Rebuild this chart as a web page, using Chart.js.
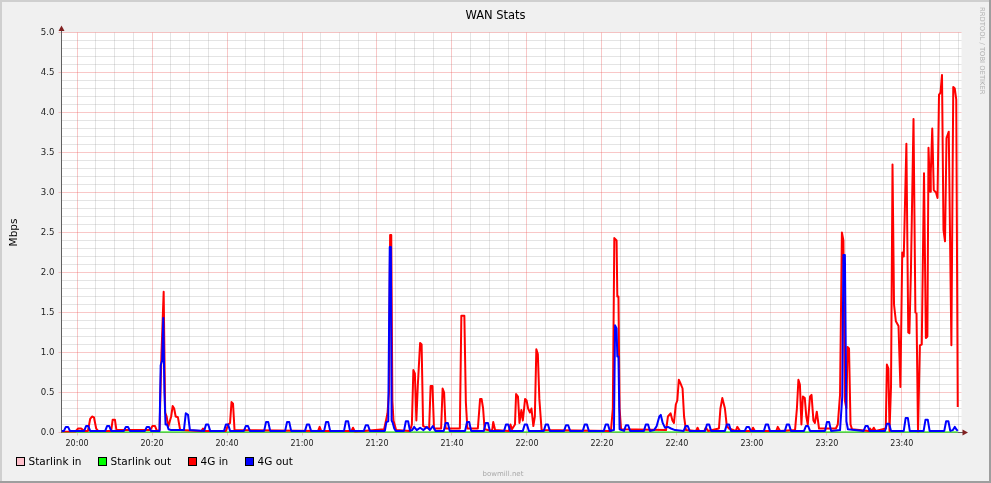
<!DOCTYPE html>
<html>
<head>
<meta charset="utf-8">
<title>WAN Stats</title>
<script src="https://cdn.jsdelivr.net/npm/chart.js@4.4.1/dist/chart.umd.min.js"></script>
<style>
  html, body { margin: 0; padding: 0; background: #f0f0f0; }
  #wrap { width: 991px; height: 483px; }
</style>
</head>
<body>
<div id="wrap"><canvas id="wanChart" width="991" height="483"></canvas></div>
<script>
// time is in minutes after 20:00, values in Mbps
const starlinkTimes = [-4.1, 234.9];
const starlinkInValues = [0, 0];
const starlinkOutValues = [0, 0];

const in4gTimes = [
  -4.1, -0.5, 0.3, 1.1, 1.9,
  2.9, 3.5, 4.0, 4.5, 5.1, 5.6,
  9.1, 9.5, 10.1, 10.5,
  19.5, 20.1, 20.8, 21.3,
  22.0, 22.5, 23.1, 23.5, 23.9, 24.3,
  25.1, 25.5, 25.9, 26.3, 26.9, 27.5,
  33.2, 33.6, 34.1,
  39.7, 40.3, 40.8, 41.2, 41.6, 42.0,
  64.3, 64.7, 65.1,
  73.2, 73.6, 74.1,
  81.9, 82.4, 82.8, 83.2, 83.5, 83.8, 84.1, 84.4, 85.1,
  88.8, 89.3, 89.7, 90.1, 90.5, 90.9, 91.5, 91.9, 92.3,
  93.9, 94.3, 94.8, 95.2,
  97.1, 97.5, 97.9, 98.3,
  102.1, 102.5, 103.3, 103.7, 104.1,
  106.9, 107.5, 107.9, 108.3, 108.7,
  110.7, 111.0, 111.5,
  115.2, 115.6, 116.0,
  116.8, 117.1, 117.6, 118.0, 118.5, 118.9, 119.5, 119.9, 120.3, 120.8, 121.2, 121.7, 122.1, 122.5, 122.9, 123.3, 123.9,
  142.4, 142.9, 143.3, 143.9, 144.1, 144.4, 144.7, 145.1,
  157.1, 157.6, 158.3, 158.8, 159.2, 159.7, 160.1, 160.5, 160.9, 161.5, 161.9, 162.4,
  165.1, 165.5, 165.9,
  167.3, 167.7, 168.3,
  171.2, 171.6, 172.1, 172.8, 173.3, 173.9,
  175.7, 176.1, 176.8,
  179.9, 180.3, 180.8,
  186.5, 186.9, 187.5,
  191.5, 192.0, 192.4, 192.8, 193.2, 193.6, 194.1, 194.5, 194.9, 195.5, 195.9, 196.4, 196.8, 197.3, 197.9,
  202.4, 202.9, 203.5, 204.0, 204.4, 204.8, 205.2, 205.5, 205.9, 206.3, 206.7,
  211.2, 211.5, 212.0, 212.5, 213.0,
  215.7, 216.0, 216.4, 216.7, 217.1, 217.5, 217.9, 218.4, 219.1, 219.6,
  220.1, 220.5, 221.2, 221.7, 222.0, 222.4, 223.1, 223.6, 223.9, 224.3,
  224.8, 225.3, 225.9, 226.4, 226.8, 227.1, 227.5, 227.7, 228.1, 228.5,
  229.1, 229.5, 229.9, 230.3, 230.7, 231.1, 231.5, 231.9, 232.5, 233.2,
  233.7, 234.1, 234.5, 234.9
];
const in4gValues = [
  0.01, 0.01, 0.05, 0.05, 0.02,
  0.02, 0.17, 0.2, 0.19, 0.05, 0.02,
  0.02, 0.16, 0.16, 0.03,
  0.03, 0.08, 0.08, 0.02,
  0.03, 0.97, 1.76, 0.25, 0.2, 0.07,
  0.2, 0.33, 0.3, 0.2, 0.19, 0.03,
  0.02, 0.05, 0.02,
  0.02, 0.1, 0.12, 0.38, 0.36, 0.03,
  0.02, 0.07, 0.02,
  0.02, 0.06, 0.01,
  0.04, 0.15, 0.24, 0.5, 2.47, 2.47, 0.4, 0.15, 0.03,
  0.02, 0.1, 0.78, 0.74, 0.15, 0.6, 1.12, 1.1, 0.08,
  0.05, 0.58, 0.58, 0.05,
  0.05, 0.55, 0.5, 0.05,
  0.05, 1.46, 1.46, 0.38, 0.05,
  0.05, 0.42, 0.42, 0.3, 0.04,
  0.02, 0.13, 0.03,
  0.02, 0.1, 0.04,
  0.1, 0.48, 0.45, 0.12, 0.28, 0.15, 0.42, 0.4, 0.3, 0.25, 0.3, 0.08, 0.2, 1.04, 0.98, 0.42, 0.03,
  0.02, 0.3, 2.43, 2.4, 1.7, 1.7, 0.3, 0.04,
  0.03, 0.2, 0.24, 0.15, 0.12, 0.35, 0.4, 0.66, 0.62, 0.55, 0.2, 0.03,
  0.02, 0.06, 0.02,
  0.02, 0.06, 0.02,
  0.05, 0.3, 0.43, 0.3, 0.08, 0.05,
  0.02, 0.07, 0.02,
  0.02, 0.06, 0.02,
  0.02, 0.07, 0.02,
  0.03, 0.3, 0.66, 0.6, 0.1, 0.45, 0.43, 0.2, 0.1, 0.45, 0.47, 0.15, 0.12, 0.26, 0.05,
  0.05, 0.1, 0.47, 2.5, 2.4, 0.4, 0.3, 1.07, 1.05, 0.1, 0.04,
  0.02, 0.05, 0.02, 0.06, 0.02,
  0.05, 0.85, 0.8, 0.02, 0.57, 3.35, 1.6, 1.39, 1.33, 0.57,
  2.25, 2.2, 3.61, 1.25, 1.24, 1.99, 3.92, 1.5, 1.49, 0.01,
  1.09, 1.1, 3.24, 1.18, 1.2, 3.56, 3.01, 3.24, 3.8, 3.03,
  3.0, 2.93, 4.22, 4.25, 4.47, 2.53, 2.39, 3.68, 3.76, 1.09,
  4.32, 4.3, 4.16, 0.32
];

const out4gTimes = [
  -4.1,
  -3.5, -3.0, -2.4, -1.9,
  1.9, 2.4, 3.0, 3.5,
  7.5, 8.0, 8.6, 9.1,
  12.5, 13.0, 13.6, 14.1,
  18.1, 18.6, 19.2, 19.7,
  22.0, 22.3, 22.7, 23.0, 23.3, 23.6, 24.0, 24.4, 25.1,
  28.5, 29.0, 29.6, 30.1,
  33.9, 34.4, 35.0, 35.5,
  39.2, 39.7, 40.3, 40.8,
  44.5, 45.0, 45.6, 46.1,
  49.9, 50.4, 51.0, 51.5,
  55.5, 56.0, 56.6, 57.1,
  60.8, 61.3, 61.9, 62.4,
  65.9, 66.4, 67.0, 67.5,
  71.2, 71.7, 72.3, 72.8,
  76.5, 77.0, 77.6, 78.1,
  82.1, 82.5, 83.0, 83.4, 83.7, 83.9, 84.2, 84.6, 85.0,
  87.2, 87.7, 88.3, 88.8,
  89.4, 89.9, 90.6, 91.5, 92.4, 93.3, 94.1, 94.9, 95.6,
  97.8, 98.3, 98.9, 99.4,
  103.5, 104.0, 104.6, 105.1,
  108.5, 109.0, 109.6, 110.1,
  113.9, 114.4, 115.0, 115.5,
  118.9, 119.4, 120.0, 120.5,
  124.5, 125.0, 125.6, 126.1,
  129.9, 130.4, 131.0, 131.5,
  134.9, 135.4, 136.0, 136.5,
  140.5, 141.0, 141.6, 142.1,
  143.2, 143.5, 143.9, 144.1, 144.4, 144.7,
  145.9, 146.4, 147.0, 147.5,
  151.2, 151.7, 152.3, 152.8,
  153.9, 154.6, 155.3, 155.7, 156.2, 156.8, 157.6, 158.4, 159.5,
  161.8, 162.3, 162.9, 163.4,
  167.5, 168.0, 168.6, 169.1,
  172.8, 173.3, 173.9, 174.4,
  178.1, 178.6, 179.2, 179.7,
  183.2, 183.7, 184.3, 184.8,
  188.8, 189.3, 189.9, 190.4,
  193.9, 194.4, 195.0, 195.5,
  199.5, 200.0, 200.6, 201.1,
  203.5, 204.1, 204.4, 204.8, 205.2, 205.6,
  209.8, 210.3, 210.9, 211.4,
  215.5, 216.0, 216.6, 217.1,
  220.5, 221.0, 221.6, 222.1,
  225.8, 226.3, 226.9, 227.4,
  231.3, 231.8, 232.4, 232.9,
  233.6, 234.1, 234.5, 234.9
];
const out4gValues = [
  0.02,
  0.02, 0.07, 0.07, 0.02,
  0.02, 0.08, 0.08, 0.02,
  0.02, 0.08, 0.08, 0.02,
  0.02, 0.07, 0.07, 0.02,
  0.02, 0.07, 0.07, 0.02,
  0.02, 0.84, 0.9, 1.43, 0.5, 0.1, 0.1, 0.04, 0.03,
  0.03, 0.24, 0.22, 0.03,
  0.02, 0.1, 0.1, 0.02,
  0.02, 0.1, 0.1, 0.02,
  0.02, 0.08, 0.08, 0.02,
  0.02, 0.13, 0.13, 0.02,
  0.02, 0.13, 0.13, 0.02,
  0.02, 0.1, 0.1, 0.02,
  0.02, 0.13, 0.13, 0.02,
  0.02, 0.14, 0.14, 0.02,
  0.02, 0.09, 0.09, 0.02,
  0.02, 0.13, 0.14, 2.32, 2.32, 0.15, 0.12, 0.05, 0.02,
  0.02, 0.14, 0.14, 0.02,
  0.03, 0.07, 0.03, 0.06, 0.03, 0.07, 0.03, 0.08, 0.02,
  0.02, 0.12, 0.12, 0.02,
  0.02, 0.13, 0.13, 0.02,
  0.02, 0.12, 0.12, 0.02,
  0.02, 0.1, 0.1, 0.02,
  0.02, 0.1, 0.1, 0.02,
  0.02, 0.1, 0.1, 0.02,
  0.02, 0.09, 0.09, 0.02,
  0.02, 0.1, 0.1, 0.02,
  0.02, 0.1, 0.1, 0.02,
  0.03, 1.34, 1.3, 0.95, 0.95, 0.04,
  0.02, 0.09, 0.09, 0.02,
  0.02, 0.1, 0.1, 0.02,
  0.03, 0.08, 0.2, 0.22, 0.12, 0.06, 0.07, 0.05, 0.03,
  0.02, 0.08, 0.08, 0.02,
  0.02, 0.1, 0.1, 0.02,
  0.02, 0.1, 0.1, 0.02,
  0.02, 0.07, 0.07, 0.02,
  0.02, 0.1, 0.1, 0.02,
  0.02, 0.1, 0.1, 0.02,
  0.02, 0.08, 0.08, 0.02,
  0.02, 0.13, 0.13, 0.02,
  0.03, 0.45, 2.22, 2.22, 0.14, 0.04,
  0.02, 0.08, 0.08, 0.02,
  0.02, 0.11, 0.11, 0.02,
  0.02, 0.18, 0.18, 0.02,
  0.02, 0.16, 0.16, 0.02,
  0.02, 0.14, 0.14, 0.02,
  0.03, 0.07, 0.04, 0.02
];

const seriesNames = ['Starlink in', 'Starlink out', '4G in', '4G out'];
const seriesColors = ['#ffc0cb', '#00ff00', '#ff0000', '#0000ff'];

const FONT = 'DejaVu Sans';
const majorGrid = 'rgba(235, 80, 80, 0.32)';
const minorGrid = 'rgba(130, 130, 130, 0.22)';

function toPoints(times, values) {
  return times.map((t, i) => ({ x: t, y: values[i] }));
}

function clockLabel(minutes) {
  const h = 20 + Math.floor(minutes / 60);
  const m = minutes % 60;
  return h + ':' + String(m).padStart(2, '0');
}

// background, frame, title, arrows, legend, watermark (rrdtool look)
const rrdLook = {
  id: 'rrdLook',
  beforeDraw(chart) {
    const { ctx, width, height, chartArea: a } = chart;
    ctx.save();
    ctx.fillStyle = '#f0f0f0';
    ctx.fillRect(0, 0, width, height);
    ctx.fillStyle = '#cfcfcf';
    ctx.fillRect(0, 0, width, 2);
    ctx.fillRect(0, 0, 2, height);
    ctx.fillStyle = '#9e9e9e';
    ctx.fillRect(0, height - 2, width, 2);
    ctx.fillRect(width - 2, 0, 2, height);
    ctx.fillStyle = '#ffffff';
    ctx.fillRect(a.left, a.top, a.right - a.left, a.bottom - a.top);
    ctx.restore();
  },
  afterDraw(chart) {
    const { ctx, width, chartArea: a } = chart;
    ctx.save();

    // title, centred on the whole image
    ctx.fillStyle = '#000000';
    ctx.font = '11.5px "' + FONT + '"';
    ctx.textAlign = 'center';
    ctx.textBaseline = 'middle';
    ctx.fillText('WAN Stats', width / 2, 16);

    // axis arrows
    ctx.strokeStyle = '#606060';
    ctx.lineWidth = 1;
    ctx.beginPath();
    ctx.moveTo(a.left, a.top);
    ctx.lineTo(a.left, 30);
    ctx.moveTo(a.right, a.bottom);
    ctx.lineTo(963, a.bottom);
    ctx.stroke();
    ctx.fillStyle = '#802020';
    ctx.beginPath();
    ctx.moveTo(a.left, 25.5);
    ctx.lineTo(a.left - 3, 31);
    ctx.lineTo(a.left + 3, 31);
    ctx.closePath();
    ctx.fill();
    ctx.beginPath();
    ctx.moveTo(968, a.bottom);
    ctx.lineTo(962.5, a.bottom - 3);
    ctx.lineTo(962.5, a.bottom + 3);
    ctx.closePath();
    ctx.fill();

    // legend
    const boxX = [16, 98, 188, 245];
    ctx.font = '10.5px "' + FONT + '"';
    ctx.textAlign = 'left';
    chart.data.datasets.forEach((ds, i) => {
      const x = boxX[i];
      ctx.fillStyle = ds.borderColor;
      ctx.fillRect(x + 0.5, 457.5, 8, 8);
      ctx.strokeStyle = '#000000';
      ctx.strokeRect(x + 0.5, 457.5, 8, 8);
      ctx.fillStyle = '#000000';
      ctx.fillText(ds.label, x + 12.5, 462);
    });

    // footer
    ctx.fillStyle = '#a8a8a8';
    ctx.font = '7px "' + FONT + '"';
    ctx.textAlign = 'center';
    ctx.fillText('bowmill.net', 503, 474);

    // watermark on the right edge
    ctx.translate(982, 7);
    ctx.rotate(Math.PI / 2);
    ctx.textAlign = 'left';
    ctx.fillStyle = '#b0b0b0';
    ctx.font = '6.8px "' + FONT + '"';
    ctx.fillText('RRDTOOL / TOBI OETIKER', 0, 0);
    ctx.restore();
  }
};

const datasets = [
  { label: seriesNames[0], data: toPoints(starlinkTimes, starlinkInValues), borderColor: seriesColors[0], order: 3 },
  { label: seriesNames[1], data: toPoints(starlinkTimes, starlinkOutValues), borderColor: seriesColors[1], order: 2 },
  { label: seriesNames[2], data: toPoints(in4gTimes, in4gValues), borderColor: seriesColors[2], order: 1 },
  { label: seriesNames[3], data: toPoints(out4gTimes, out4gValues), borderColor: seriesColors[3], order: 0 }
].map(ds => Object.assign(ds, {
  backgroundColor: ds.borderColor,
  borderWidth: 2,
  pointRadius: 0,
  tension: 0,
  fill: false,
  borderJoinStyle: 'round'
}));

const ctx = document.getElementById('wanChart').getContext('2d');
const wanChart = new Chart(ctx, {
  type: 'line',
  data: { datasets: datasets },
  options: {
    responsive: false,
    animation: false,
    events: [],
    layout: { padding: { left: 0, right: 29.5, top: 32.5, bottom: 30.5 } },
    plugins: {
      legend: { display: false },
      tooltip: { enabled: false },
      title: { display: false }
    },
    scales: {
      x: {
        type: 'linear',
        min: -4.15,
        max: 235.9,
        afterFit(scale) { scale.height = 20; },
        border: { display: true, color: '#606060', width: 1 },
        grid: {
          drawTicks: true,
          tickLength: 3,
          color: c => (c.tick && c.tick.value % 20 === 0) ? majorGrid : minorGrid,
          tickColor: c => (c.tick && c.tick.value % 20 === 0) ? majorGrid : 'rgba(0,0,0,0)'
        },
        ticks: {
          stepSize: 5,
          includeBounds: false,
          autoSkip: false,
          maxRotation: 0,
          minRotation: 0,
          padding: 4,
          color: '#222222',
          font: { family: FONT, size: 8 },
          callback: v => (Math.round(v) % 20 === 0) ? clockLabel(Math.round(v)) : ''
        }
      },
      y: {
        min: 0,
        max: 5,
        afterFit(scale) { scale.width = 61.5; },
        border: { display: true, color: '#606060', width: 1 },
        grid: {
          drawTicks: true,
          tickLength: 3,
          color: c => (c.tick && Math.round(c.tick.value * 10) % 5 === 0) ? majorGrid : minorGrid,
          tickColor: c => (c.tick && Math.round(c.tick.value * 10) % 5 === 0) ? majorGrid : 'rgba(0,0,0,0)'
        },
        title: {
          display: true,
          text: 'Mbps',
          color: '#000000',
          font: { family: FONT, size: 10.5 },
          padding: { top: 7.7, bottom: 0 }
        },
        ticks: {
          stepSize: 0.1,
          autoSkip: false,
          padding: 4,
          color: '#222222',
          font: { family: FONT, size: 8.6 },
          callback: v => (Math.round(v * 10) % 5 === 0) ? v.toFixed(1) : ''
        }
      }
    }
  },
  plugins: [rrdLook]
});
</script>
</body>
</html>
